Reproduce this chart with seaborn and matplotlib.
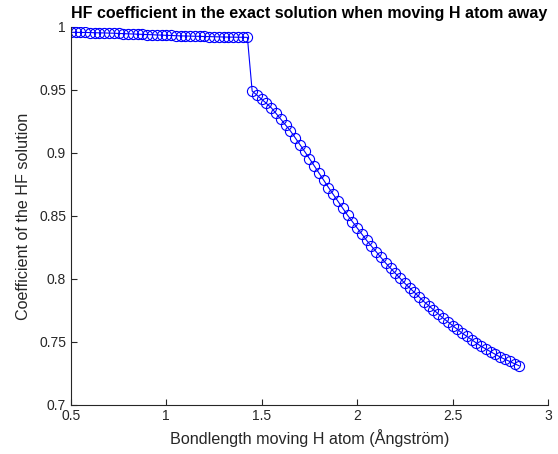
import matplotlib
matplotlib.use("Agg")
import matplotlib.pyplot as plt
from matplotlib.ticker import FuncFormatter
import seaborn as sns
import pandas as pd

bondlength = [
    0.500, 0.525, 0.550, 0.575, 0.600, 0.625, 0.650, 0.675, 0.700, 0.725,
    0.750, 0.775, 0.800, 0.825, 0.850, 0.875, 0.900, 0.925, 0.950, 0.975,
    1.000, 1.025, 1.050, 1.075, 1.100, 1.125, 1.150, 1.175, 1.200, 1.225,
    1.250, 1.275, 1.300, 1.325, 1.350, 1.375, 1.400, 1.425,
    1.450, 1.475, 1.500, 1.525, 1.550, 1.575, 1.600, 1.625, 1.650, 1.675,
    1.700, 1.725, 1.750, 1.775, 1.800, 1.825, 1.850, 1.875, 1.900, 1.925,
    1.950, 1.975, 2.000, 2.025, 2.050, 2.075, 2.100, 2.125, 2.150, 2.175,
    2.200, 2.225, 2.250, 2.275, 2.300, 2.325, 2.350, 2.375, 2.400, 2.425,
    2.450, 2.475, 2.500, 2.525, 2.550, 2.575, 2.600, 2.625, 2.650, 2.675,
    2.700, 2.725, 2.750, 2.775, 2.800, 2.825, 2.850,
]

hf_coefficient = [
    0.9956, 0.9956, 0.9955, 0.9955, 0.9954, 0.9953, 0.9952, 0.9951, 0.9950, 0.9949,
    0.9947, 0.9946, 0.9944, 0.9943, 0.9941, 0.9940, 0.9938, 0.9937, 0.9935, 0.9934,
    0.9932, 0.9931, 0.9929, 0.9928, 0.9927, 0.9926, 0.9925, 0.9924, 0.9923, 0.9922,
    0.9921, 0.9920, 0.9919, 0.9918, 0.9918, 0.9917, 0.9917, 0.9916,
    0.9490, 0.9458, 0.9425, 0.9392, 0.9358, 0.9313, 0.9267, 0.9221, 0.9175, 0.9121,
    0.9066, 0.9011, 0.8955, 0.8898, 0.8840, 0.8783, 0.8725, 0.8670, 0.8615, 0.8560,
    0.8505, 0.8455, 0.8405, 0.8355, 0.8305, 0.8260, 0.8215, 0.8170, 0.8125, 0.8085,
    0.8045, 0.8005, 0.7965, 0.7929, 0.7893, 0.7857, 0.7820, 0.7788, 0.7755, 0.7723,
    0.7690, 0.7660, 0.7630, 0.7600, 0.7570, 0.7544, 0.7518, 0.7491, 0.7465, 0.7444,
    0.7422, 0.7401, 0.7380, 0.7362, 0.7345, 0.7327, 0.7310,
]

x_ticks = [0.5, 1, 1.5, 2, 2.5, 3]
y_ticks = [0.7, 0.75, 0.8, 0.85, 0.9, 0.95, 1]

title = "HF coefficient in the exact solution when moving H atom away"
xlabel = "Bondlength moving H atom (Ångström)"
ylabel = "Coefficient of the HF solution"

sns.set_style("ticks")
plt.rcParams["font.family"] = ["Liberation Sans", "DejaVu Sans"]

df = pd.DataFrame({"x": bondlength, "y": hf_coefficient})

fig = plt.figure(figsize=(5.58, 4.54), dpi=100)
ax = fig.add_axes([0.127, 0.108, 0.855, 0.833])

sns.lineplot(data=df, x="x", y="y", ax=ax, color="#0000ff", linewidth=0.8,
             marker="o", markersize=7.3, markerfacecolor="none",
             markeredgecolor="#0000ff", markeredgewidth=0.8, sort=False)

axcol = "#262626"
ax.set_xlim(0.5, 3)
ax.set_ylim(0.7, 1)
ax.set_xticks(x_ticks)
ax.set_yticks(y_ticks)
fmt = FuncFormatter(lambda v, p: "%g" % v)
ax.xaxis.set_major_formatter(fmt)
ax.yaxis.set_major_formatter(fmt)
ax.tick_params(direction="in", length=4, width=0.8, colors=axcol, labelsize=10,
               labelcolor=axcol)
ax.tick_params(axis="x", pad=3)
for s in ["top", "right"]:
    ax.spines[s].set_visible(False)
for s in ["left", "bottom"]:
    ax.spines[s].set_color(axcol)
    ax.spines[s].set_linewidth(0.8)

ax.set_xlabel(xlabel, fontsize=11.6, color=axcol, labelpad=4)
ax.set_ylabel(ylabel, fontsize=11.6, color=axcol, labelpad=6)
ax.set_title(title, fontsize=11.5, fontweight="bold", color="black", pad=6)

fig.savefig("out.png", dpi=100)
